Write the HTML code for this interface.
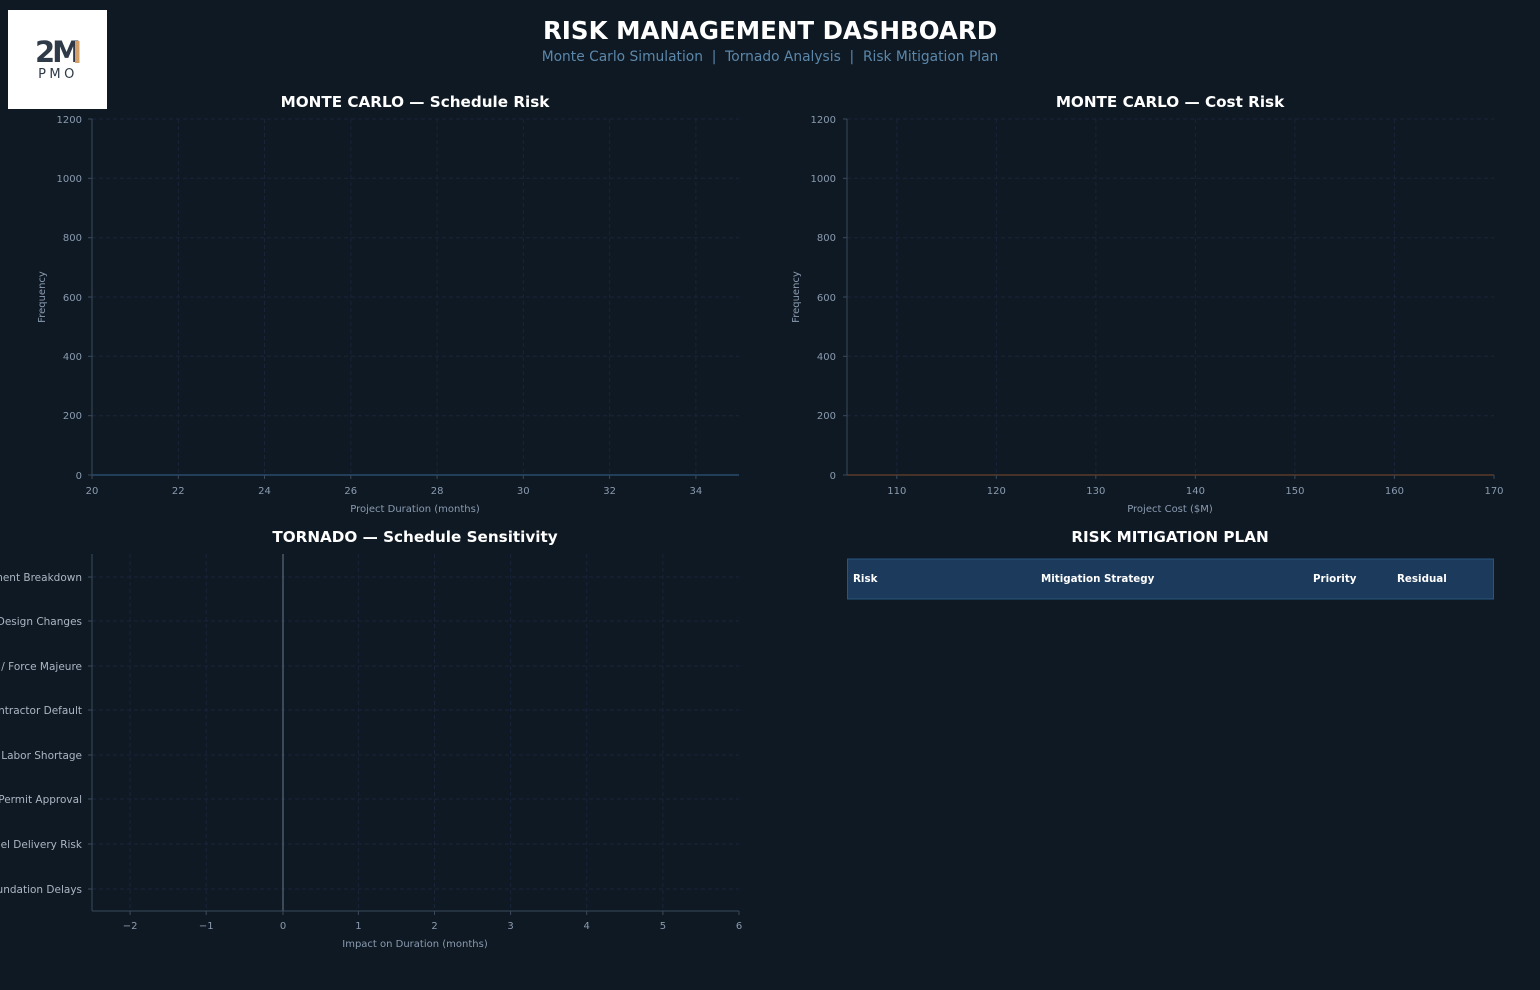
<!DOCTYPE html>
<html><head><meta charset="utf-8"><style>
html,body{margin:0;padding:0;background:#0f1923;width:1540px;height:990px;overflow:hidden}
svg{display:block;font-family:"DejaVu Sans","Liberation Sans",sans-serif}
.t{fill:#8a9bb0;font-size:10px}
.yl{fill:#aab6c4;font-size:10.5px}
.g{stroke:#18243a;stroke-width:1;stroke-dasharray:4,3}
.s{stroke:#3a4a5c;stroke-width:1}
.ttl{fill:#fff;font-size:15.2px;font-weight:bold}
</style></head><body>
<svg width="1540" height="990" viewBox="0 0 1540 990">
<rect width="1540" height="990" fill="#0f1923"/>
<rect x="8" y="10" width="99" height="99" fill="#fff"/>
<text x="35" y="62" font-size="29" font-weight="bold" fill="#2e3a48" letter-spacing="-3">2M</text>
<rect x="75" y="41" width="4.5" height="22" fill="#d4a06a"/>
<text x="58" y="78" text-anchor="middle" font-size="13" fill="#2e3a48" letter-spacing="3.5">PMO</text>
<text x="770" y="39" text-anchor="middle" font-size="24.5" font-weight="bold" fill="#fff">RISK MANAGEMENT DASHBOARD</text>
<text x="770" y="61" text-anchor="middle" font-size="13.8" fill="#5b87aa" xml:space="preserve">Monte Carlo Simulation  |  Tornado Analysis  |  Risk Mitigation Plan</text>

<text x="415" y="107" text-anchor="middle" class="ttl">MONTE CARLO — Schedule Risk</text>
<g class="g">
<line x1="92" y1="119" x2="739" y2="119"/><line x1="92" y1="178.3" x2="739" y2="178.3"/><line x1="92" y1="237.7" x2="739" y2="237.7"/><line x1="92" y1="297" x2="739" y2="297"/><line x1="92" y1="356.3" x2="739" y2="356.3"/><line x1="92" y1="415.7" x2="739" y2="415.7"/>
<line x1="178.3" y1="119" x2="178.3" y2="475"/><line x1="264.5" y1="119" x2="264.5" y2="475"/><line x1="350.8" y1="119" x2="350.8" y2="475"/><line x1="437.1" y1="119" x2="437.1" y2="475"/><line x1="523.3" y1="119" x2="523.3" y2="475"/><line x1="609.6" y1="119" x2="609.6" y2="475"/><line x1="695.9" y1="119" x2="695.9" y2="475"/>
</g>
<line x1="92" y1="475" x2="739" y2="475" stroke="#2a4a6a" stroke-width="1.5"/>
<line x1="92" y1="119" x2="92" y2="475" class="s"/>
<g class="s">
<line x1="88" y1="119" x2="92" y2="119"/><line x1="88" y1="178.3" x2="92" y2="178.3"/><line x1="88" y1="237.7" x2="92" y2="237.7"/><line x1="88" y1="297" x2="92" y2="297"/><line x1="88" y1="356.3" x2="92" y2="356.3"/><line x1="88" y1="415.7" x2="92" y2="415.7"/><line x1="88" y1="475" x2="92" y2="475"/>
<line x1="92" y1="475" x2="92" y2="479"/><line x1="178.3" y1="475" x2="178.3" y2="479"/><line x1="264.5" y1="475" x2="264.5" y2="479"/><line x1="350.8" y1="475" x2="350.8" y2="479"/><line x1="437.1" y1="475" x2="437.1" y2="479"/><line x1="523.3" y1="475" x2="523.3" y2="479"/><line x1="609.6" y1="475" x2="609.6" y2="479"/><line x1="695.9" y1="475" x2="695.9" y2="479"/>
</g>
<g class="t" text-anchor="end">
<text x="82" y="123">1200</text><text x="82" y="182">1000</text><text x="82" y="241">800</text><text x="82" y="301">600</text><text x="82" y="360">400</text><text x="82" y="419">200</text><text x="82" y="479">0</text>
</g>
<g class="t" text-anchor="middle">
<text x="92" y="494">20</text><text x="178.3" y="494">22</text><text x="264.5" y="494">24</text><text x="350.8" y="494">26</text><text x="437.1" y="494">28</text><text x="523.3" y="494">30</text><text x="609.6" y="494">32</text><text x="695.9" y="494">34</text>
<text x="415" y="512">Project Duration (months)</text>
<text transform="translate(45,297) rotate(-90)">Frequency</text>
</g>

<text x="1170" y="107" text-anchor="middle" class="ttl">MONTE CARLO — Cost Risk</text>
<g class="g">
<line x1="847" y1="119" x2="1494" y2="119"/><line x1="847" y1="178.3" x2="1494" y2="178.3"/><line x1="847" y1="237.7" x2="1494" y2="237.7"/><line x1="847" y1="297" x2="1494" y2="297"/><line x1="847" y1="356.3" x2="1494" y2="356.3"/><line x1="847" y1="415.7" x2="1494" y2="415.7"/>
<line x1="896.8" y1="119" x2="896.8" y2="475"/><line x1="996.3" y1="119" x2="996.3" y2="475"/><line x1="1095.8" y1="119" x2="1095.8" y2="475"/><line x1="1195.4" y1="119" x2="1195.4" y2="475"/><line x1="1294.9" y1="119" x2="1294.9" y2="475"/><line x1="1394.4" y1="119" x2="1394.4" y2="475"/>
</g>
<line x1="847" y1="475" x2="1494" y2="475" stroke="#5a3a2a" stroke-width="1.5"/>
<line x1="847" y1="119" x2="847" y2="475" class="s"/>
<g class="s">
<line x1="843" y1="119" x2="847" y2="119"/><line x1="843" y1="178.3" x2="847" y2="178.3"/><line x1="843" y1="237.7" x2="847" y2="237.7"/><line x1="843" y1="297" x2="847" y2="297"/><line x1="843" y1="356.3" x2="847" y2="356.3"/><line x1="843" y1="415.7" x2="847" y2="415.7"/><line x1="843" y1="475" x2="847" y2="475"/>
<line x1="896.8" y1="475" x2="896.8" y2="479"/><line x1="996.3" y1="475" x2="996.3" y2="479"/><line x1="1095.8" y1="475" x2="1095.8" y2="479"/><line x1="1195.4" y1="475" x2="1195.4" y2="479"/><line x1="1294.9" y1="475" x2="1294.9" y2="479"/><line x1="1394.4" y1="475" x2="1394.4" y2="479"/><line x1="1494" y1="475" x2="1494" y2="479"/>
</g>
<g class="t" text-anchor="end">
<text x="836" y="123">1200</text><text x="836" y="182">1000</text><text x="836" y="241">800</text><text x="836" y="301">600</text><text x="836" y="360">400</text><text x="836" y="419">200</text><text x="836" y="479">0</text>
</g>
<g class="t" text-anchor="middle">
<text x="896.8" y="494">110</text><text x="996.3" y="494">120</text><text x="1095.8" y="494">130</text><text x="1195.4" y="494">140</text><text x="1294.9" y="494">150</text><text x="1394.4" y="494">160</text><text x="1494" y="494">170</text>
<text x="1170" y="512">Project Cost ($M)</text>
<text transform="translate(799,297) rotate(-90)">Frequency</text>
</g>

<text x="415" y="542" text-anchor="middle" class="ttl">TORNADO — Schedule Sensitivity</text>
<g class="g">
<line x1="92" y1="577" x2="739" y2="577"/><line x1="92" y1="621" x2="739" y2="621"/><line x1="92" y1="666" x2="739" y2="666"/><line x1="92" y1="710" x2="739" y2="710"/><line x1="92" y1="755" x2="739" y2="755"/><line x1="92" y1="799" x2="739" y2="799"/><line x1="92" y1="844" x2="739" y2="844"/><line x1="92" y1="889" x2="739" y2="889"/>
<line x1="130.1" y1="554" x2="130.1" y2="911"/><line x1="206.2" y1="554" x2="206.2" y2="911"/><line x1="358.4" y1="554" x2="358.4" y2="911"/><line x1="434.5" y1="554" x2="434.5" y2="911"/><line x1="510.6" y1="554" x2="510.6" y2="911"/><line x1="586.7" y1="554" x2="586.7" y2="911"/><line x1="662.9" y1="554" x2="662.9" y2="911"/>
</g>
<line x1="283" y1="554" x2="283" y2="911" stroke="#5a6a7c" stroke-width="1.2"/>
<line x1="92" y1="554" x2="92" y2="911" class="s"/><line x1="92" y1="911" x2="739" y2="911" class="s"/>
<g class="s">
<line x1="88" y1="577" x2="92" y2="577"/><line x1="88" y1="621" x2="92" y2="621"/><line x1="88" y1="666" x2="92" y2="666"/><line x1="88" y1="710" x2="92" y2="710"/><line x1="88" y1="755" x2="92" y2="755"/><line x1="88" y1="799" x2="92" y2="799"/><line x1="88" y1="844" x2="92" y2="844"/><line x1="88" y1="889" x2="92" y2="889"/>
<line x1="130.1" y1="911" x2="130.1" y2="915"/><line x1="206.2" y1="911" x2="206.2" y2="915"/><line x1="283" y1="911" x2="283" y2="915"/><line x1="358.4" y1="911" x2="358.4" y2="915"/><line x1="434.5" y1="911" x2="434.5" y2="915"/><line x1="510.6" y1="911" x2="510.6" y2="915"/><line x1="586.7" y1="911" x2="586.7" y2="915"/><line x1="662.9" y1="911" x2="662.9" y2="915"/><line x1="739" y1="911" x2="739" y2="915"/>
</g>
<g class="yl" text-anchor="end">
<text x="82" y="581">Equipment Breakdown</text><text x="82" y="625">Design Changes</text><text x="82" y="670">Weather / Force Majeure</text><text x="82" y="714">Subcontractor Default</text><text x="82" y="759">Labor Shortage</text><text x="82" y="803">Permit Approval</text><text x="82" y="848">Steel Delivery Risk</text><text x="82" y="893">Foundation Delays</text>
</g>
<g class="t" text-anchor="middle">
<text x="130.1" y="929">−2</text><text x="206.2" y="929">−1</text><text x="283" y="929">0</text><text x="358.4" y="929">1</text><text x="434.5" y="929">2</text><text x="510.6" y="929">3</text><text x="586.7" y="929">4</text><text x="662.9" y="929">5</text><text x="739" y="929">6</text>
<text x="415" y="947">Impact on Duration (months)</text>
</g>

<text x="1170" y="542" text-anchor="middle" class="ttl">RISK MITIGATION PLAN</text>
<rect x="847.5" y="559" width="646" height="40" fill="#1b3a5c" stroke="#2a5580" stroke-width="1"/>
<g fill="#fff" font-size="10.3" font-weight="bold">
<text x="853" y="582">Risk</text><text x="1041" y="582">Mitigation Strategy</text><text x="1313" y="582">Priority</text><text x="1397" y="582">Residual</text>
</g>
</svg>
</body></html>
